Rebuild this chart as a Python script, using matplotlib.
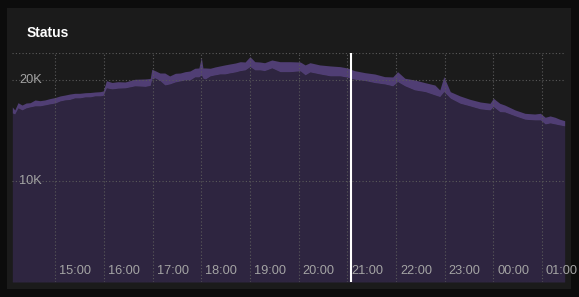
import matplotlib
matplotlib.use("Agg")
import matplotlib.pyplot as plt
import pandas as pd
from matplotlib.patches import Rectangle

plt.rcParams['font.family'] = ['Liberation Sans', 'DejaVu Sans']

# ---- data (values in thousands) ----
times = ["14:07", "14:10", "14:14", "14:19", "14:24", "14:29", "14:35", "14:41", "14:47", "14:53",
         "15:00", "15:06", "15:12", "15:18", "15:24", "15:30", "15:37", "15:43", "15:49", "15:55",
         "15:59", "16:03", "16:10", "16:17", "16:26", "16:38", "16:51", "16:57", "16:59", "17:03",
         "17:09", "17:15", "17:21", "17:28", "17:34", "17:40", "17:46", "17:52", "17:57", "18:00",
         "18:02", "18:05", "18:11", "18:17", "18:23", "18:29", "18:35", "18:42", "18:48", "18:54",
         "19:00", "19:06", "19:12", "19:18", "19:27", "19:37", "19:49", "20:02", "20:08", "20:14",
         "20:26", "20:39", "20:51", "21:00", "21:09", "21:22", "21:34", "21:46", "21:56", "22:02",
         "22:11", "22:23", "22:36", "22:48", "22:54", "22:59", "23:07", "23:19", "23:31", "23:44",
         "23:56", "00:00", "00:08", "00:14", "00:27", "00:39", "00:51", "00:58", "01:04", "01:10",
         "01:16", "01:22", "01:28"]
upper = [17.33, 17.03, 17.75, 17.52, 17.72, 17.75, 18.02, 17.95, 18.02, 18.15,
         18.27, 18.42, 18.51, 18.61, 18.68, 18.68, 18.74, 18.76, 18.81, 18.84,
         18.91, 19.93, 19.75, 19.83, 19.80, 20.07, 20.10, 20.15, 21.06, 20.92,
         20.69, 20.69, 20.40, 20.66, 20.69, 20.82, 20.89, 21.16, 21.19, 22.23,
         21.19, 21.19, 21.16, 21.29, 21.39, 21.49, 21.58, 21.68, 21.81, 21.78,
         22.31, 21.81, 21.78, 21.71, 21.98, 21.81, 21.81, 21.78, 21.49, 21.71,
         21.49, 21.39, 21.32, 21.19, 20.92, 20.72, 20.59, 20.33, 20.30, 20.82,
         20.17, 20.00, 19.73, 19.50, 19.01, 20.33, 18.84, 18.42, 18.09, 17.82,
         17.69, 18.19, 17.69, 17.52, 17.03, 16.70, 16.63, 16.70, 16.31, 16.44,
         16.31, 16.11, 15.97]
lower = [16.73, 16.63, 17.23, 17.03, 17.23, 17.33, 17.43, 17.43, 17.52, 17.62,
         17.72, 17.92, 18.02, 18.07, 18.22, 18.22, 18.32, 18.32, 18.42, 18.42,
         18.47, 19.21, 19.11, 19.18, 19.21, 19.41, 19.36, 19.46, 20.10, 20.20,
         19.93, 19.50, 19.60, 19.80, 19.90, 20.00, 20.00, 20.30, 20.30, 20.50,
         20.17, 20.10, 20.40, 20.50, 20.59, 20.59, 20.69, 20.79, 20.92, 20.99,
         21.32, 20.99, 20.99, 20.92, 21.19, 20.82, 20.82, 20.89, 20.50, 20.79,
         20.59, 20.40, 20.40, 20.27, 20.07, 19.93, 19.73, 19.60, 19.41, 19.83,
         19.41, 19.01, 18.84, 18.51, 18.35, 18.84, 18.19, 17.69, 17.43, 17.13,
         17.03, 17.36, 16.86, 16.83, 16.44, 16.11, 16.04, 16.04, 15.64, 15.74,
         15.64, 15.54, 15.45]
y_ticks = [10, 20]
y_labels = ["10K", "20K"]
x_hours = ["15:00", "16:00", "17:00", "18:00", "19:00", "20:00", "21:00", "22:00", "23:00", "00:00", "01:00"]
x_range = ["14:06:36", "01:28:24"]
marker_time = "21:05"
y_max = 22.67


def to_dt(s):
    t = pd.to_datetime("2020-01-01 " + (s if s.count(":") == 2 else s + ":00"))
    if t.hour < 12:
        t += pd.Timedelta(days=1)
    return t


tx = [to_dt(s) for s in times]
hx = [to_dt(s) for s in x_hours]

W, H = 579, 297
fig = plt.figure(figsize=(W / 100, H / 100), dpi=100, facecolor="#0c0c0c")
# panel
fig.patches.append(Rectangle((7 / W, 1 - 289 / H), (571 - 7) / W, (289 - 8) / H,
                             transform=fig.transFigure, facecolor="#1b1b1b", edgecolor="none", zorder=-5))

ax = fig.add_axes([12 / W, 1 - 282 / H, (565 - 12) / W, (282 - 53) / H])
ax.set_zorder(2)
ax.patch.set_visible(False)
for s in ax.spines.values():
    s.set_visible(False)
ax.set_xticks([])
ax.set_yticks([])

ax.fill_between(tx, 0, lower, color="#2e2540", linewidth=0, zorder=1)
ax.fill_between(tx, lower, upper, color="#503e74", linewidth=0, zorder=1)

ax.set_xlim(to_dt(x_range[0]), to_dt(x_range[1]))
ax.set_ylim(0, y_max)

grid_kw = dict(color="#5a5a5a", linewidth=0.8, linestyle=(0, (1, 2)), zorder=2)
for yv in [0] + y_ticks + [y_max]:
    ax.axhline(yv, **grid_kw)
for h in hx:
    ax.axvline(h, **grid_kw)

for yv, lab in zip(y_ticks, y_labels):
    ax.annotate(lab, xy=(0, yv), xycoords=("axes fraction", "data"), xytext=(7, 0),
                textcoords="offset pixels", ha="left", va="center", color="#a4a4a4",
                fontsize=9.2, zorder=3)
for h, lab in zip(hx, x_hours):
    ax.annotate(lab, xy=(h, 0), xycoords=("data", "axes fraction"), xytext=(4, 11),
                textcoords="offset pixels", ha="left", va="center", color="#a4a4a4",
                fontsize=9.2, zorder=3, annotation_clip=False)

ax.axvline(to_dt(marker_time), color="white", linewidth=1.5, zorder=4)

fig.text(27 / W, 1 - 33 / H, "Status", color="white", fontsize=10, fontweight="bold",
         ha="left", va="center")

fig.savefig("out.png", dpi=100, facecolor=fig.get_facecolor())
